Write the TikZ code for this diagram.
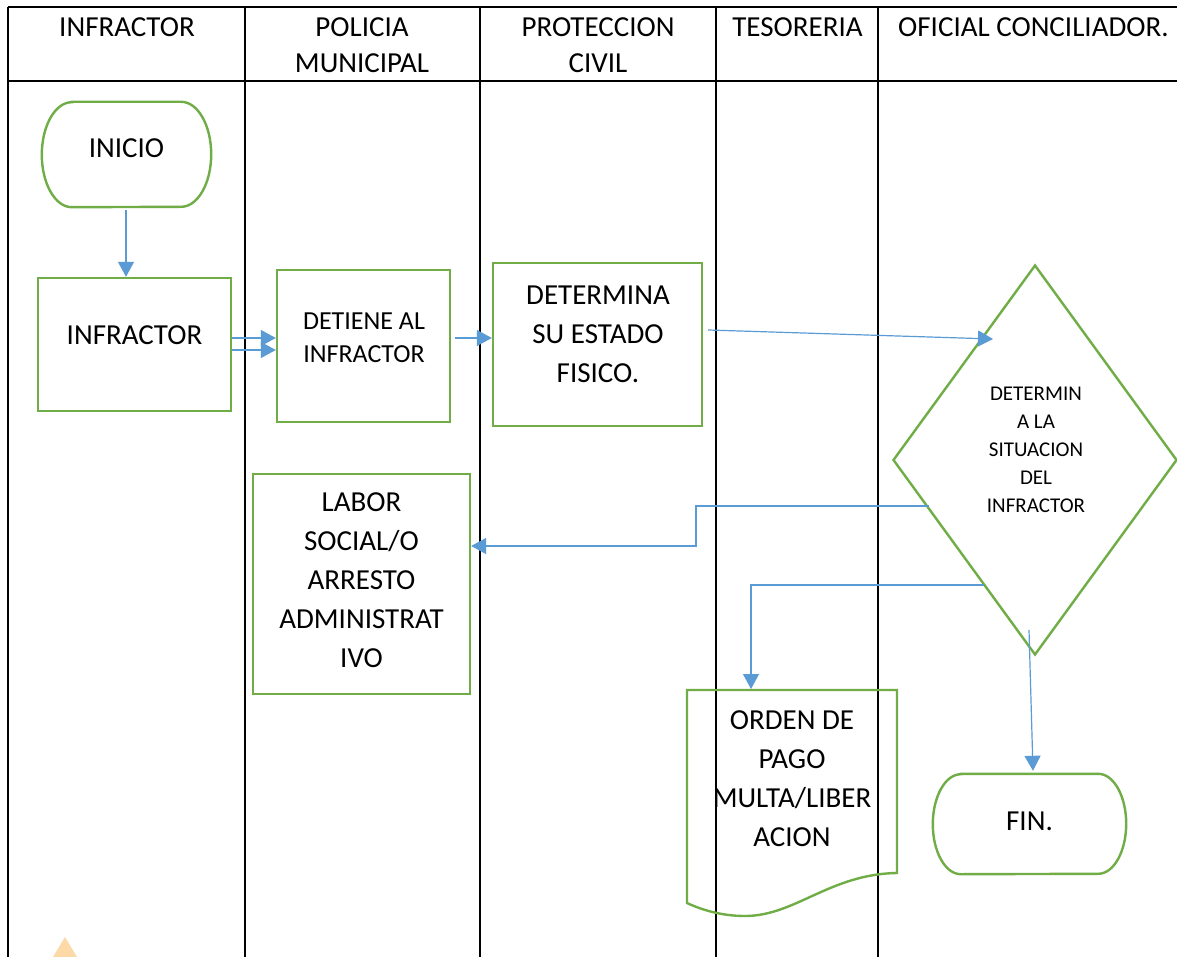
\documentclass[tikz,border=0pt]{standalone}
\usepackage{fontspec}
\setmainfont{Carlito}
\usetikzlibrary{arrows.meta,shapes.geometric,calc}
\definecolor{gbox}{HTML}{70AD47}
\definecolor{barrow}{HTML}{5B9BD5}
\definecolor{wmark}{HTML}{FCD9A6}
\begin{document}
\begin{tikzpicture}[x=1pt,y=-1pt,
  tline/.style={line width=2.4pt,black},
  gline/.style={draw=gbox,line width=2.4pt,line join=miter},
  boxnode/.style={draw=gbox,line width=2.4pt,rectangle,inner sep=0pt},
  ghost/.style={rectangle,inner sep=0pt},
  arr/.style={draw=barrow,line width=1.2pt,-{Triangle[length=15pt,width=16pt]}},
  txt/.style={align=center,inner sep=0pt,font=\fontsize{29}{39}\selectfont},
  stxt/.style={align=center,inner sep=0pt,font=\fontsize{26}{33}\selectfont},
  dtxt/.style={align=center,inner sep=0pt,font=\fontsize{21}{28}\selectfont},
  htxt/.style={align=center,inner sep=0pt,font=\fontsize{29}{36}\selectfont},
]
\useasboundingbox (0,0) rectangle (1177,957);
\fill[white] (0,0) rectangle (1177,957);

% table
\draw[tline] (8,7) -- (1177,7);
\draw[tline] (8,81) -- (1177,81);
\draw[tline] (8,7) -- (8,957);
\draw[tline] (245,7) -- (245,957);
\draw[tline] (480,7) -- (480,957);
\draw[tline] (716,7) -- (716,957);
\draw[tline] (878,7) -- (878,957);

% headers
\node[htxt] (h1) at (127,27.5) {INFRACTOR};
\node[htxt] (h2) at (362,45.5) {POLICIA\\MUNICIPAL};
\node[htxt] (h3) at (598,45.5) {PROTECCION\\CIVIL};
\node[htxt] (h4) at (797.5,27.5) {TESORERIA};
\node[htxt] (h5) at (1033.5,27.5) {OFICIAL CONCILIADOR.};

% INICIO terminal
\node[ghost,minimum width=169pt,minimum height=105pt] (ini) at (126.5,154.5) {};
\draw[gline] ([xshift=30pt]ini.north west) -- ([xshift=-30pt]ini.north east)
  arc[start angle=90,end angle=-90,x radius=30pt,y radius=52.5pt]
  -- ([xshift=30pt]ini.south west)
  arc[start angle=270,end angle=90,x radius=30pt,y radius=52.5pt] -- cycle;
\node[txt] (init) at (126.5,148) {INICIO};

% boxes
\node[boxnode,minimum width=193pt,minimum height=133pt] (inf) at (134.5,344.5) {};
\node[txt] (inft) at (134.5,335) {INFRACTOR};

\node[boxnode,minimum width=173pt,minimum height=152pt] (det) at (363.5,346) {};
\node[stxt] (dett) at (364,337.5) {DETIENE AL\\INFRACTOR};

\node[boxnode,minimum width=209pt,minimum height=163pt] (dtm) at (597.5,344.5) {};
\node[txt] (dtmt) at (598,334) {DETERMINA\\SU ESTADO\\FISICO.};

\node[boxnode,minimum width=217pt,minimum height=220pt] (lab) at (361.5,584) {};
\node[txt] (labt) at (361.5,580) {LABOR\\SOCIAL/O\\ARRESTO\\ADMINISTRAT\\IVO};

% diamond
\node[diamond,draw=gbox,line width=2.4pt,inner sep=0pt,aspect=0.728,
      minimum width=284pt,minimum height=390pt] (dia) at (1035,460) {};
\node[dtxt] (diat) at (1036,450) {DETERMIN\\A LA\\SITUACION\\DEL\\INFRACTOR};

% document
\draw[gline] (687,690) -- (897,690) -- (897,873)
  .. controls (830,874) and (795,916) .. (745,916)
  .. controls (720,916) and (700,909) .. (687,903) -- cycle;
\node[txt] (ord) at (792,778.5) {ORDEN DE\\PAGO\\MULTA/LIBER\\ACION};

% FIN terminal
\node[ghost,minimum width=193pt,minimum height=100pt] (fin) at (1029.5,824) {};
\draw[gline] ([xshift=28pt]fin.north west) -- ([xshift=-28pt]fin.north east)
  arc[start angle=90,end angle=-90,x radius=28pt,y radius=50pt]
  -- ([xshift=28pt]fin.south west)
  arc[start angle=270,end angle=90,x radius=28pt,y radius=50pt] -- cycle;
\node[txt] (fint) at (1029.5,821) {FIN.};

% connector coordinates
\coordinate (diain) at (993,339);
\coordinate (d1) at (929,506);
\coordinate (k1) at (696,546);
\coordinate (d2) at (984,585);
\coordinate (ordin) at (751,689);
\coordinate (d3) at (1029,630);

% connectors
\draw[arr] ([yshift=-3pt]ini.south -| 126,0) -- (inf.north -| 126,0);
\draw[arr] (inf.east |- 0,338) -- (det.west |- 0,338);
\draw[arr] (inf.east |- 0,350) -- (det.west |- 0,350);
\draw[arr] ([xshift=4pt]det.east |- 0,338) -- (dtm.west |- 0,338);
\draw[arr] ([xshift=5pt]dtm.east |- 0,330) -- (diain);
\draw[arr] (d1) -| (k1) -- (lab.east |- k1);
\draw[arr] (d2) -| (ordin);
\draw[arr] (d3) -- ([xshift=3.5pt,yshift=3pt]fin.north);

% faint watermark
\fill[wmark] (65,937) -- (77,957) -- (53,957) -- cycle;
\end{tikzpicture}
\end{document}
